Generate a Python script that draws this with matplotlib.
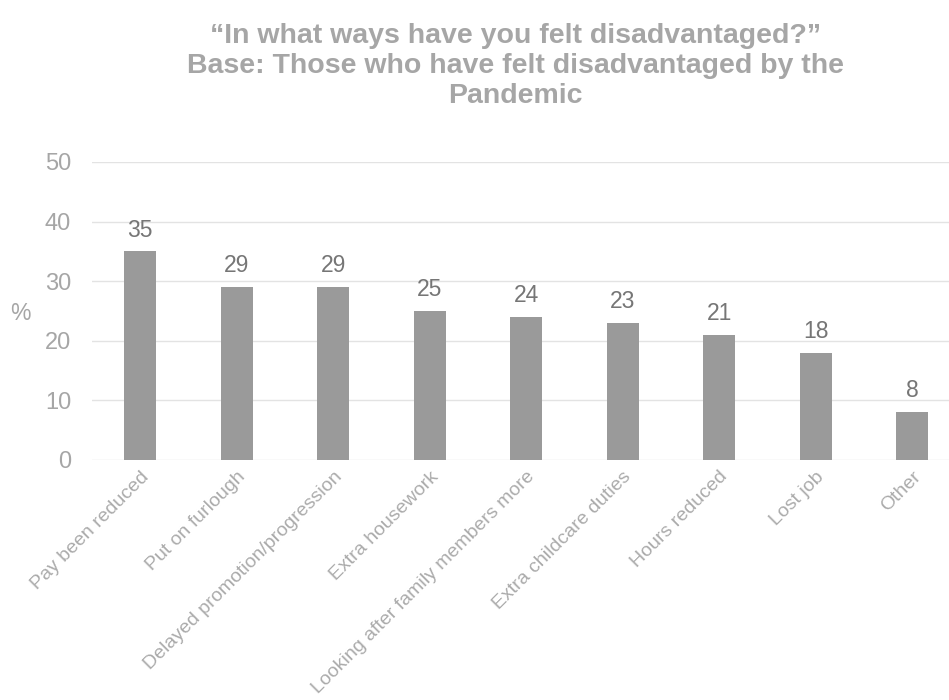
import matplotlib.pyplot as plt

categories = ["Pay been reduced", "Put on furlough", "Delayed promotion/progression",
              "Extra housework", "Looking after family members more",
              "Extra childcare duties", "Hours reduced", "Lost job", "Other"]
values = [35, 29, 29, 25, 24, 23, 21, 18, 8]
yticks = [0, 10, 20, 30, 40, 50]

plt.rcParams['font.family'] = ['Liberation Sans', 'DejaVu Sans']
text_grey = '#a6a6a6'
bar_grey = '#9a9a9a'

fig = plt.figure(figsize=(9.49, 7.0), dpi=100)
ax = fig.add_axes([0.097, 0.343, 0.915, 0.4257])

x = range(len(categories))
bars = ax.bar(x, values, width=0.33, color=bar_grey, zorder=3)
for b, v in zip(bars, values):
    ax.annotate(str(v), (b.get_x() + b.get_width() / 2, v), xytext=(0, 7),
                textcoords='offset points', ha='center', va='bottom',
                fontsize=16.5, color='#767676')

ax.set_xlim(-0.5, len(categories) - 0.5)
ax.set_ylim(0, 50)
ax.set_yticks(yticks)
ax.set_yticklabels([str(t) for t in yticks], fontsize=17, color=text_grey)
ax.set_xticks(list(x))
ax.set_xticklabels(categories, rotation=45, ha='right', rotation_mode='anchor',
                   fontsize=14, color='#ababab')
ax.tick_params(axis='x', length=0, pad=6)
ax.tick_params(axis='y', length=0, pad=15)
ax.grid(axis='y', color='#e3e3e3', linewidth=1, zorder=0)
for s in ax.spines.values():
    s.set_visible(False)

ax.set_ylabel('%', rotation=0, fontsize=16.5, color=text_grey, va='center', ha='center')
ax.yaxis.set_label_coords(-0.082, 0.49)

fig.text(0.543, 0.906, '\u201cIn what ways have you felt disadvantaged?\u201d\n'
         'Base: Those who have felt disadvantaged by the\nPandemic',
         ha='center', va='center', fontsize=20.5, color=text_grey,
         fontweight='bold', linespacing=1.2)

fig.savefig('out.png', dpi=100)
